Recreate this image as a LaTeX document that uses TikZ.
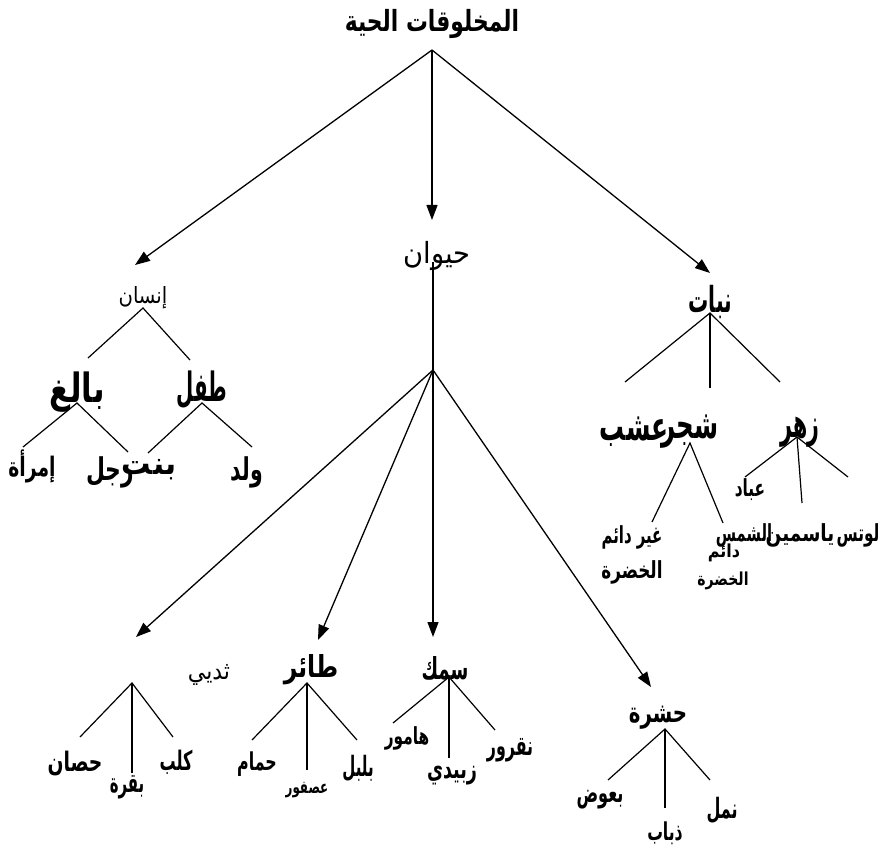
\documentclass[tikz,border=0pt]{standalone}
\usepackage{fontspec}
\usepackage{graphicx}
\TeXXeTstate=1
\newfontfamily\arabicfont[Script=Arabic]{DejaVu Sans}
\newcommand{\ar}[2]{\scalebox{#1}[1.12]{\arabicfont #2}}
\usetikzlibrary{arrows.meta}
\tikzset{
  lab/.style={inner sep=0pt, text=black},
  bf/.style={font=\arabicfont\bfseries\fontsize{#1}{#1}\selectfont},
  rg/.style={font=\arabicfont\fontsize{#1}{#1}\selectfont},
  arr/.style={line width=1.3pt, -{Triangle[length=15pt,width=11pt]}},
  ln/.style={line width=1.2pt}
}
\begin{document}
\begin{tikzpicture}[x=1pt,y=-1pt]
\useasboundingbox (0,0) rectangle (888,850);
\fill[white] (0,0) rectangle (888,850);
% ---- level 0
\node[lab,bf=26] (root) at (432,24) {\ar{0.84}{\beginR المخلوقات الحية\endR}};
\coordinate (rootA) at (432,50);
\coordinate (insT) at (135,265);
\coordinate (hayT) at (432,220);
\coordinate (nabT) at (710,273);
\draw[arr] (rootA) -- (insT);
\draw[arr] (rootA) -- (hayT);
\draw[arr] (rootA) -- (nabT);
% ---- insan
\node[lab,rg=20] (insan) at (143,298) {\ar{0.98}{\beginR إنسان\endR}};
\coordinate (insA) at (143,308);
\coordinate (insL) at (88,358);
\coordinate (insR) at (190,360);
\draw[ln] (insL) -- (insA) -- (insR);
\node[lab,bf=36] (baligh) at (77,392) {\ar{0.85}{\beginR بالغ\endR}};
\node[lab,bf=36] (tifl) at (202,390) {\ar{0.55}{\beginR طفل\endR}};
\coordinate (balA) at (77,403);
\coordinate (balL) at (23,447);
\coordinate (balR) at (128,452);
\draw[ln] (balL) -- (balA) -- (balR);
\coordinate (tifA) at (202,403);
\coordinate (tifL) at (148,453);
\coordinate (tifR) at (252,447);
\draw[ln] (tifL) -- (tifA) -- (tifR);
\node[lab,bf=24] (imraa) at (32,466) {\ar{0.78}{\beginR إمرأة\endR}};
\node[lab,bf=28] (rajul) at (110,472) {\ar{0.78}{\beginR رجل\endR}};
\node[lab,bf=28] (bint) at (149,470) {\ar{1.05}{\beginR بنت\endR}};
\node[lab,bf=28] (walad) at (247,472) {\ar{0.73}{\beginR ولد\endR}};
% ---- hayawan
\node[lab,rg=26] (hay) at (437,256) {\ar{1.05}{\beginR حيوان\endR}};
\coordinate (hayTop) at (433,262);
\coordinate (hayA) at (433,370);
\draw[ln] (hayTop) -- (hayA);
\coordinate (mamT) at (136,637);
\coordinate (birT) at (318,640);
\coordinate (fisT) at (433,637);
\coordinate (insctT) at (651,687);
\draw[arr] (hayA) -- (mamT);
\draw[arr] (hayA) -- (birT);
\draw[arr] (hayA) -- (fisT);
\draw[arr] (hayA) -- (insctT);
% mammals
\node[lab,rg=22] (thadyi) at (209,675) {\ar{1.0}{\beginR ثديي\endR}};
\coordinate (mamA) at (132,683);
\coordinate (mamL) at (80,737);
\coordinate (mamM) at (132,773);
\coordinate (mamR) at (173,737);
\draw[ln] (mamL) -- (mamA) -- (mamR);
\draw[ln] (mamA) -- (mamM);
\node[lab,bf=24] (hisan) at (75,763) {\ar{0.78}{\beginR حصان\endR}};
\node[lab,bf=24] (baqara) at (127,787) {\ar{0.62}{\beginR بقرة\endR}};
\node[lab,bf=24] (kalb) at (176,762) {\ar{0.67}{\beginR كلب\endR}};
% birds
\node[lab,bf=27] (tair) at (311,670) {\ar{0.87}{\beginR طائر\endR}};
\coordinate (birA) at (307,683);
\coordinate (birL) at (252,740);
\coordinate (birM) at (307,770);
\coordinate (birR) at (357,740);
\draw[ln] (birL) -- (birA) -- (birR);
\draw[ln] (birA) -- (birM);
\node[lab,bf=22] (hamam) at (257,764) {\ar{0.72}{\beginR حمام\endR}};
\node[lab,bf=16] (usfur) at (307,790) {\ar{0.74}{\beginR عصفور\endR}};
\node[lab,bf=25] (bulbul) at (358,768) {\ar{0.6}{\beginR بلبل\endR}};
% fish
\node[lab,bf=27] (samak) at (445,668) {\ar{0.67}{\beginR سمك\endR}};
\coordinate (fisA) at (449,677);
\coordinate (fisL) at (393,723);
\coordinate (fisM) at (449,758);
\coordinate (fisR) at (495,730);
\draw[ln] (fisL) -- (fisA) -- (fisR);
\draw[ln] (fisA) -- (fisM);
\node[lab,bf=21] (hamur) at (407,738) {\ar{0.73}{\beginR هامور\endR}};
\node[lab,bf=24] (zubaidi) at (452,776) {\ar{0.73}{\beginR زبيدي\endR}};
\node[lab,bf=24] (naqrur) at (510,750) {\ar{0.66}{\beginR نقرور\endR}};
% insects
\node[lab,bf=25] (hashara) at (658,718) {\ar{0.79}{\beginR حشرة\endR}};
\coordinate (insctA) at (665,729);
\coordinate (insctL) at (608,780);
\coordinate (insctM) at (665,808);
\coordinate (insctR) at (710,780);
\draw[ln] (insctL) -- (insctA) -- (insctR);
\draw[ln] (insctA) -- (insctM);
\node[lab,bf=24] (baud) at (600,800) {\ar{0.67}{\beginR بعوض\endR}};
\node[lab,bf=22] (dhubab) at (665,833) {\ar{0.71}{\beginR ذباب\endR}};
\node[lab,bf=25] (naml) at (722,810) {\ar{0.64}{\beginR نمل\endR}};
% ---- nabat
\node[lab,bf=32] (nabat) at (710,302) {\ar{0.63}{\beginR نبات\endR}};
\coordinate (nabA) at (710,313);
\coordinate (nabL) at (625,382);
\coordinate (nabM) at (710,388);
\coordinate (nabR) at (780,382);
\draw[ln] (nabL) -- (nabA) -- (nabR);
\draw[ln] (nabA) -- (nabM);
\node[lab,bf=36] (shajar) at (690,432) {\ar{0.68}{\beginR شجر\endR}};
\node[lab,bf=36] (ushb) at (634,432) {\ar{0.69}{\beginR عشب\endR}};
\node[lab,bf=36] (zahr) at (800,432) {\ar{0.57}{\beginR زهر\endR}};
\coordinate (shaA) at (690,443);
\coordinate (shaL) at (652,522);
\coordinate (shaR) at (723,523);
\draw[ln] (shaL) -- (shaA) -- (shaR);
\coordinate (zahA) at (797,437);
\coordinate (zahL) at (745,477);
\coordinate (zahM) at (802,503);
\coordinate (zahR) at (848,477);
\draw[ln] (zahL) -- (zahA) -- (zahR);
\draw[ln] (zahA) -- (zahM);
\node[lab,bf=21] (ubbad) at (750,490) {\ar{0.73}{\beginR عباد\endR}};
\node[lab,bf=21] (shams) at (744,535) {\ar{0.7}{\beginR الشمس\endR}};
\node[lab,bf=21] (yasmin) at (800,535) {\ar{0.88}{\beginR ياسمين\endR}};
\node[lab,bf=21] (lotus) at (858,535) {\ar{0.73}{\beginR لوتس\endR}};
\node[lab,bf=21] (ghayr) at (632,537) {\ar{0.71}{\beginR غير دائم\endR}};
\node[lab,bf=21] (khudra1) at (632,572) {\ar{0.8}{\beginR الخضرة\endR}};
\node[lab,bf=16] (daim) at (724,553) {\ar{1.0}{\beginR دائم\endR}};
\node[lab,bf=16] (khudra2) at (723,581) {\ar{0.88}{\beginR الخضرة\endR}};
\end{tikzpicture}
\end{document}
